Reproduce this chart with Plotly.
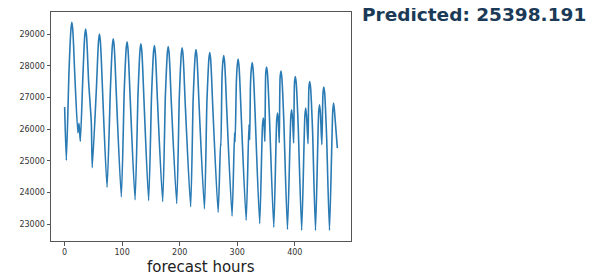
import plotly.graph_objects as go

# forecast hour positions of the read key points
hours = [
    0, 3,
    7.5, 9.5, 11, 12.5, 14, 15.5, 17.5,
    23, 25, 27.3,
    31.5, 33.5, 35, 36.5, 38, 39.5, 41.5,
    46.4, 48,
    55.5, 57.5, 59, 60.5, 62, 63.5, 65.5,
    73.7,
    79.5, 81.5, 83, 84.5, 86, 87.5, 89.5,
    98.5,
    103.5, 105.5, 107, 108.5, 110, 111.5, 113.5,
    122.4,
    127.5, 129.5, 131, 132.5, 134, 135.5, 137.5,
    146,
    151, 153, 154.5, 156, 157.5, 159, 161,
    170.4,
    175, 177, 178.5, 180, 181.5, 183, 185,
    194.8,
    199.2, 201.2, 202.7, 204.2, 205.7, 207.2, 209.2,
    219,
    223.3, 225.3, 226.8, 228.3, 229.8, 231.3, 233.3,
    243,
    247.2, 249.2, 250.7, 252.2, 253.7, 255.2, 257.2,
    266.8,
    271.0, 271.6,
    273.5, 275, 276.5, 278, 279.5, 281.5,
    291,
    295.3, 296.3,
    298.5, 300, 301.5, 303, 304.5, 306.5,
    315.5,
    320.3, 321.6,
    323, 324.5, 326, 327.5, 329, 331,
    339,
    343.8, 345.3, 346.8, 348,
    349.5, 351, 352.5, 354, 356,
    363.5,
    368.5, 370, 371.5, 373,
    374.5, 376, 377.5, 379, 381,
    387.3,
    393, 394.5, 396, 398,
    399.5, 401, 402.5, 404, 406,
    412,
    417.5, 419, 420.5, 423,
    424.5, 426, 427.5, 429, 431,
    436,
    441.5, 443, 444.5, 447,
    449, 450.4, 452, 453.4, 455.4,
    460.3,
    466, 467.5, 469, 474,
]

# predicted values at those hours
predicted = [
    26700, 25010,
    27770, 28670, 29170, 29370, 29170, 28670, 27770,
    25880, 26180, 25610,
    27560, 28460, 28960, 29160, 28960, 28460, 27560,
    26190, 24780,
    27400, 28300, 28800, 29000, 28800, 28300, 27400,
    24160,
    27250, 28150, 28650, 28850, 28650, 28150, 27250,
    23860,
    27160, 28060, 28560, 28760, 28560, 28060, 27160,
    23770,
    27095, 27995, 28495, 28695, 28495, 27995, 27095,
    23740,
    27040, 27940, 28440, 28640, 28440, 27940, 27040,
    23710,
    27010, 27910, 28410, 28610, 28410, 27910, 27010,
    23650,
    26965, 27865, 28365, 28565, 28365, 27865, 26965,
    23550,
    26910, 27810, 28310, 28510, 28310, 27810, 26910,
    23480,
    26820, 27720, 28220, 28420, 28220, 27720, 26820,
    23370,
    25560, 25470,
    27625, 28125, 28325, 28125, 27625, 26725,
    23250,
    25880, 25600,
    27510, 28010, 28210, 28010, 27510, 26610,
    23120,
    26140, 25665,
    27405, 27905, 28105, 27905, 27405, 26505,
    23015,
    26100, 26350, 26100, 25610,
    27760, 27960, 27760, 27260, 26360,
    22900,
    26260, 26510, 26260, 25570,
    27635, 27835, 27635, 27135, 26235,
    22830,
    26360, 26610, 26360, 25560,
    27460, 27660, 27460, 26960, 26060,
    22805,
    26415, 26665, 26415, 25540,
    27305, 27505, 27305, 26805, 25905,
    22795,
    26520, 26770, 26520, 25510,
    27130, 27330, 27130, 26630, 25730,
    22805,
    26573, 26823, 26573, 25398.191,
]

x_ticks = [0, 100, 200, 300, 400]
y_ticks = [23000, 24000, 25000, 26000, 27000, 28000, 29000]
y_tick_labels = ["23000", "24000", "25000", "26000", "27000", "28000", "29000"]
title_text = "<b>Predicted: 25398.191</b>"
x_label = "forecast hours"

fig = go.Figure()
fig.add_trace(go.Scatter(
    x=hours, y=predicted, mode="lines",
    line=dict(color="#2a7ab4", width=1.6, shape="spline", smoothing=0.6),
    hoverinfo="skip", showlegend=False,
))

axis_common = dict(
    showline=True, mirror=True, linecolor="#555555", linewidth=1,
    ticks="outside", ticklen=3.5, tickwidth=1, tickcolor="#555555",
    showgrid=False, zeroline=False, automargin=False,
    tickfont=dict(family="DejaVu Sans", size=8, color="#333333"),
)

# page body has an 8px margin, so the figure is laid out 8px up/left of the window
fig.update_layout(
    width=588, height=269,
    margin=dict(l=43, r=245, t=4, b=36),
    paper_bgcolor="#ffffff", plot_bgcolor="#ffffff",
    xaxis=dict(range=[-23.7, 497.7], tickvals=x_ticks, **axis_common),
    yaxis=dict(range=[22466, 29699], tickvals=y_ticks, ticktext=y_tick_labels,
               **axis_common),
    annotations=[
        dict(text=title_text, xref="paper", yref="paper",
             x=1.032, y=0.987, xanchor="left", yanchor="middle",
             showarrow=False, borderpad=0,
             font=dict(family="DejaVu Sans", size=18.5, color="#1b3a57")),
        dict(text=x_label, xref="paper", yref="paper",
             x=0.5, y=-0.112, xanchor="center", yanchor="middle",
             showarrow=False, borderpad=0,
             font=dict(family="DejaVu Sans", size=15, color="#222222")),
    ],
)

fig.write_html("out.html")
